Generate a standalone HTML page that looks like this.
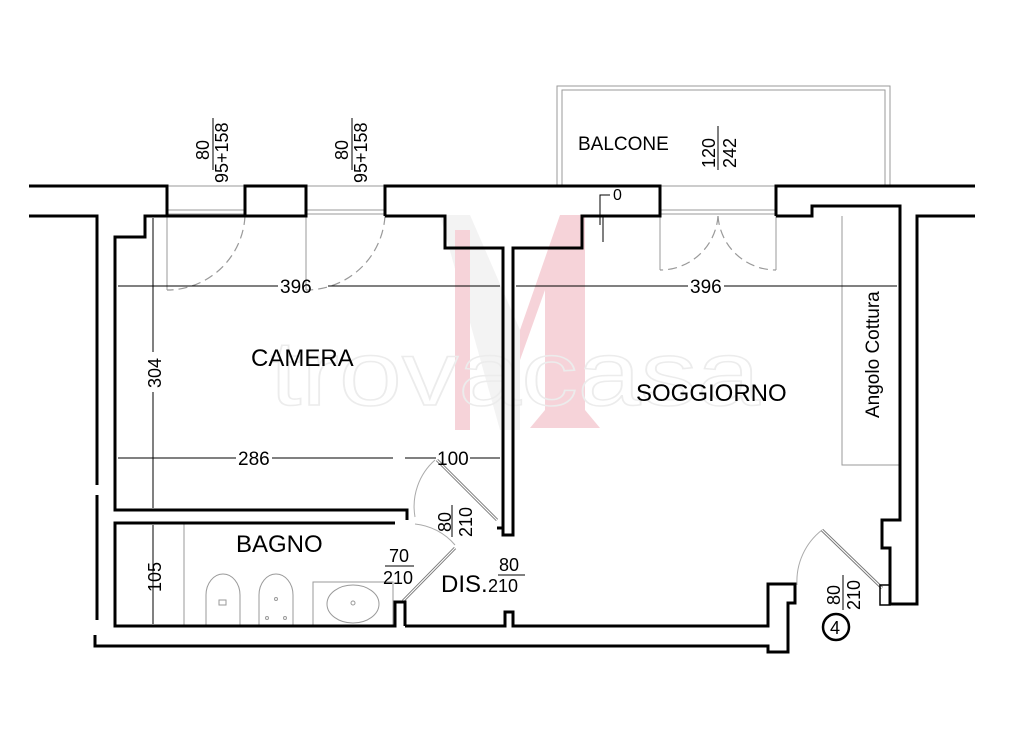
<!DOCTYPE html>
<html><head><meta charset="utf-8"><style>
html,body{margin:0;padding:0;background:#fff;}
svg{display:block;font-family:"Liberation Sans",Arial,sans-serif;}
</style></head><body>
<svg width="1024" height="744" viewBox="0 0 1024 744" xmlns="http://www.w3.org/2000/svg">
<rect width="1024" height="744" fill="#fff"/>
<g>
<polygon points="440,215 470,215 520,330 520,430 500,430" fill="#f3f3f3"/>
<polygon points="520,330 560,215 585,215 585,410 600,428 530,428 545,410 545,290 520,360" fill="#f6d3d9"/>
<polygon points="455,230 470,230 470,430 455,430" fill="#f6d3d9"/>
</g>
<text x="270" y="405" font-size="92" fill="none" stroke="#ececec" stroke-width="1.5" textLength="490" lengthAdjust="spacingAndGlyphs">trovacasa</text>
<g fill="none" stroke="#9a9a9a" stroke-width="1">
<rect x="557" y="86" width="333" height="100"/>
<rect x="562" y="90" width="323" height="96"/>
<rect x="167" y="210" width="78" height="4"/>
<rect x="306" y="210" width="79" height="4"/>
<rect x="660" y="210" width="116" height="4"/>
<line x1="167" y1="186" x2="245" y2="186"/>
<line x1="306" y1="186" x2="385" y2="186"/>
<line x1="660" y1="186" x2="776" y2="186"/>
<line x1="167" y1="216" x2="167" y2="290"/>
<line x1="306" y1="216" x2="306" y2="290"/>
<line x1="660" y1="216" x2="660" y2="270"/>
<line x1="776" y1="216" x2="776" y2="270"/>
<polyline points="842,216 842,465 900,465"/>
<line x1="184" y1="523" x2="184" y2="626"/>
<rect x="313" y="582" width="80" height="44"/>
<ellipse cx="353" cy="604" rx="26" ry="19"/>
<path d="M206,626 V595 a17,21 0 0 1 34,0 V626"/>
<path d="M259,626 V595 a17,21 0 0 1 34,0 V626"/>
<rect x="219" y="600" width="7" height="5"/>
<circle cx="276" cy="599" r="1.5"/><circle cx="267" cy="618" r="1.5"/><circle cx="285" cy="618" r="1.5"/><circle cx="353" cy="603" r="2"/>
<path d="M415,517 A62,62 0 0 1 435,460" stroke="#aaa"/>
<path d="M415,524 A60,60 0 0 1 455,545" stroke="#aaa"/>
<path d="M797,585 A65,65 0 0 1 822,530" stroke="#aaa"/>
</g>
<g fill="none" stroke="#999" stroke-width="1.2" stroke-dasharray="9,5">
<path d="M245,216 A78,78 0 0 1 167,290"/>
<path d="M385,216 A79,79 0 0 1 306,290"/>
<path d="M718,216 A58,58 0 0 1 660,270"/>
<path d="M718,216 A58,58 0 0 0 776,270"/>
</g>
<g stroke="#777" stroke-width="3" fill="none">
<line x1="437" y1="460" x2="497" y2="520"/>
<line x1="455" y1="548" x2="403" y2="601"/>
<line x1="822" y1="530" x2="882" y2="588"/>
</g>
<g stroke="#fff" stroke-width="1.2" fill="none">
<line x1="437" y1="460" x2="497" y2="520"/>
<line x1="455" y1="548" x2="403" y2="601"/>
<line x1="822" y1="530" x2="882" y2="588"/>
</g>
<g fill="none" stroke="#000" stroke-width="3">
<polyline points="29,186 167,186 167,216"/>
<polyline points="245,216 245,186 306,186 306,216 245,216"/>
<polyline points="385,216 385,186 660,186 660,216 582,216 582,248 513,248 513,535 503,535 503,528 497,528"/>
<polyline points="776,216 776,186 975,186"/>
<polyline points="29,216 97,216 97,485"/>
<polyline points="97,495 97,620"/>
<polyline points="95,635 95,646 768,646 768,652 788,652 788,603 795,603 795,584 768,584 768,626 513,626 513,612 505,612 505,626 405,626"/>
<polyline points="167,216 145,216 145,237 115,237 115,510 407,510 407,520"/>
<polyline points="245,216 167,216"/>
<polyline points="385,216 445,216 445,248 503,248 503,530"/>
<polyline points="395,523 115,523 115,626 395,626 395,602 405,602 405,626"/>
<polyline points="776,216 812,216 812,206 900,206 900,520 882,520 882,548 890,548 890,604 917,604 917,216 975,216"/>
</g>
<rect x="880" y="585" width="10" height="20" fill="none" stroke="#000" stroke-width="1.5"/>
<g stroke="#000" stroke-width="1" fill="#000">
<line x1="118" y1="286" x2="278" y2="286"/><line x1="328" y1="286" x2="500" y2="286"/>
<line x1="516" y1="286" x2="688" y2="286"/><line x1="724" y1="286" x2="897" y2="286"/>
<line x1="118" y1="458" x2="236" y2="458"/><line x1="272" y1="458" x2="393" y2="458"/>
<line x1="405" y1="458" x2="436" y2="458"/><line x1="470" y1="458" x2="500" y2="458"/>
<line x1="153" y1="218" x2="153" y2="352"/><line x1="153" y1="392" x2="153" y2="508"/>
<line x1="153" y1="525" x2="153" y2="624"/>
<polyline points="600,225 600,195 610,195" fill="none"/><line x1="603" y1="216" x2="603" y2="242"/>
<line x1="213" y1="118" x2="213" y2="170"/><line x1="352" y1="118" x2="352" y2="170"/>
<line x1="718" y1="126" x2="718" y2="170"/>
<line x1="452" y1="505" x2="452" y2="537"/><line x1="385" y1="566" x2="414" y2="566"/>
<line x1="498" y1="575" x2="525" y2="575"/><line x1="843" y1="575" x2="843" y2="610"/>
</g>
<g fill="#000">
<text x="280" y="293" font-size="19">396</text>
<text x="690" y="293" font-size="19">396</text>
<text x="238" y="465" font-size="19">286</text>
<text x="437" y="465" font-size="19">100</text>
<text x="251" y="366" font-size="24">CAMERA</text>
<text x="636" y="401" font-size="24">SOGGIORNO</text>
<text x="236" y="552" font-size="24">BAGNO</text>
<text x="578" y="150" font-size="19">BALCONE</text>
<text x="441" y="592" font-size="24">DIS.</text>
<text x="499" y="571" font-size="18">80</text>
<text x="488" y="592" font-size="18">210</text>
<text x="389" y="562" font-size="18">70</text>
<text x="383" y="584" font-size="18">210</text>
<text x="613" y="200" font-size="16">0</text>
<text transform="translate(161,388) rotate(-90)" font-size="18">304</text>
<text transform="translate(161,592) rotate(-90)" font-size="18">105</text>
<text transform="translate(209,160) rotate(-90)" font-size="18">80</text>
<text transform="translate(228,183) rotate(-90)" font-size="18">95+158</text>
<text transform="translate(348,160) rotate(-90)" font-size="18">80</text>
<text transform="translate(367,183) rotate(-90)" font-size="18">95+158</text>
<text transform="translate(715,168) rotate(-90)" font-size="18">120</text>
<text transform="translate(736,168) rotate(-90)" font-size="18">242</text>
<text transform="translate(451,532) rotate(-90)" font-size="18">80</text>
<text transform="translate(472,537) rotate(-90)" font-size="18">210</text>
<text transform="translate(840,605) rotate(-90)" font-size="18">80</text>
<text transform="translate(860,610) rotate(-90)" font-size="18">210</text>
<text transform="translate(879,418) rotate(-90)" font-size="19">Angolo Cottura</text>
<circle cx="836" cy="627" r="13" fill="none" stroke="#000" stroke-width="2.5"/>
<text x="830" y="634" font-size="18">4</text>
</g>
</svg>
</body></html>
